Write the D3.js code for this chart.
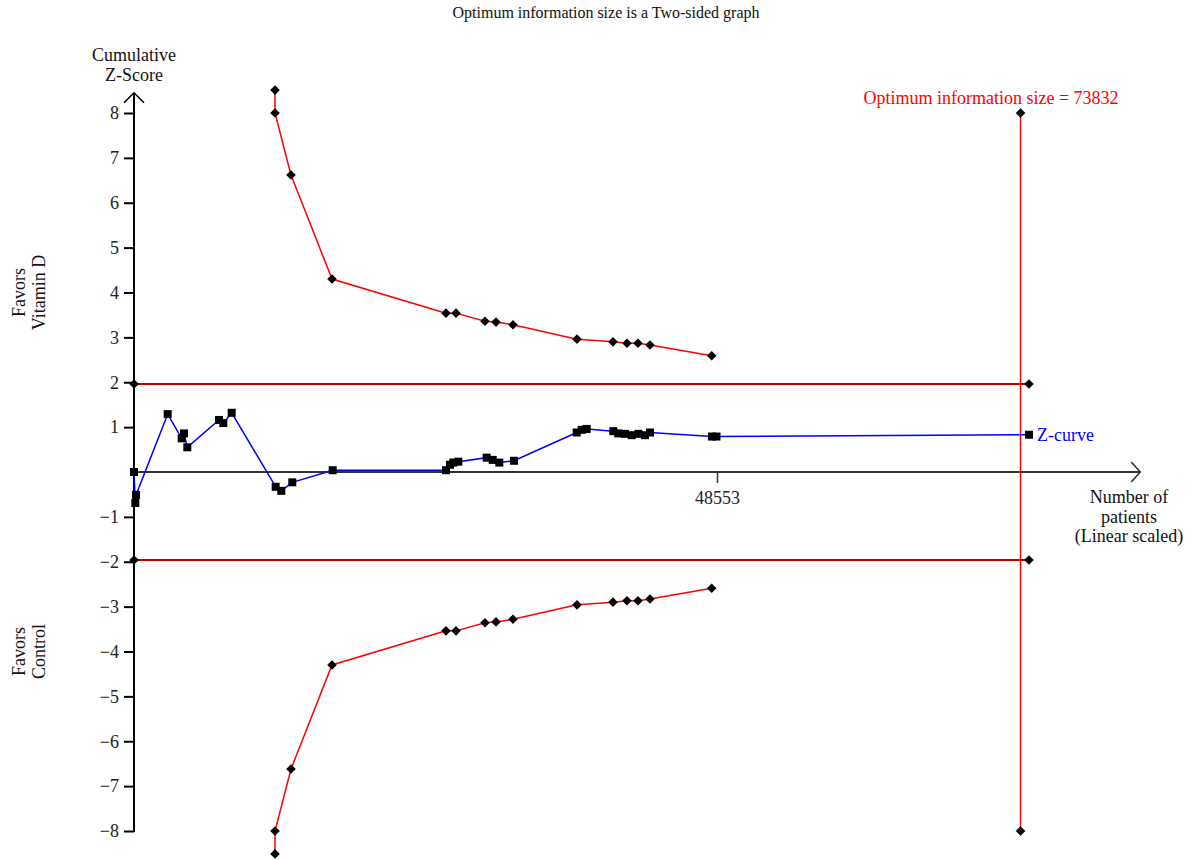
<!DOCTYPE html>
<html>
<head>
<meta charset="utf-8">
<script src="https://cdn.jsdelivr.net/npm/d3@7"></script>
<style>
  html, body { margin: 0; padding: 0; background: #fff; }
  svg { display: block; }
  svg text { font-family: "Liberation Serif", "Times New Roman", serif !important; }
</style>
</head>
<body>
<svg id="chart" width="1192" height="860"></svg>
<script>
// Cumulative Z-curve: number of patients and cumulative Z-score per trial
const zPatients = [0, 110, 170, 2806, 3972, 4164, 4439, 7079, 7437, 8136, 11801, 12267, 13183, 16548,
  25983, 26316, 26592, 27008, 29373, 29873, 30423, 31646, 36868, 37285, 37701, 39917, 40333, 40891,
  41449, 42000, 42556, 42972, 48136, 48511, 74535];
const zScores = [0, -0.69, -0.51, 1.29, 0.75, 0.86, 0.55, 1.16, 1.09, 1.32, -0.33, -0.42, -0.23, 0.04,
  0.04, 0.16, 0.21, 0.23, 0.32, 0.27, 0.21, 0.25, 0.88, 0.94, 0.96, 0.91, 0.86, 0.85,
  0.82, 0.85, 0.82, 0.88, 0.79, 0.79, 0.83];

// Trial sequential monitoring boundaries (two-sided, mirrored)
const boundaryPatients = [11743, 11743, 13075, 16490, 25983, 26816, 29231, 30147, 31563, 36893, 39891,
  41057, 41973, 42972, 48111];
const boundaryZ = [8.51, 8.0, 6.62, 4.30, 3.54, 3.54, 3.36, 3.34, 3.28, 2.96, 2.90, 2.87, 2.87, 2.83, 2.59];

// Conventional boundary, information size and axis settings
const conventionalZ = 1.96;
const conventionalEnd = 74535;
const optimumInfoSize = 73832;
const accruedPatients = 48553;
const yTicks = [-8, -7, -6, -5, -4, -3, -2, -1, 1, 2, 3, 4, 5, 6, 7, 8];
const xTicks = [48553];
const xAxisEnd = 83800;
const yAxisTop = 8.45;

const svg = d3.select("#chart");

const x = d3.scaleLinear().domain([0, accruedPatients]).range([134, 717]);
const y = d3.scaleLinear().domain([-8, 8]).range([831, 113]);

const fmtMinus = d => (d < 0 ? "\u2212" + Math.abs(d) : String(d));

// Title
svg.append("text")
  .attr("x", 606).attr("y", 18)
  .attr("text-anchor", "middle")
  .attr("font-size", 16)
  .attr("fill", "#111")
  .text("Optimum information size is a Two-sided graph");

// Y axis
const yAxis = svg.append("g")
  .attr("transform", `translate(${x(0)},0)`)
  .call(d3.axisLeft(y).tickValues(yTicks).tickSize(10).tickPadding(5).tickFormat(fmtMinus));
yAxis.select(".domain").remove();
yAxis.selectAll(".tick line").attr("stroke", "#000").attr("stroke-width", 2);
yAxis.selectAll(".tick text").attr("font-size", 18).attr("fill", "#222");

svg.append("line")
  .attr("x1", x(0)).attr("x2", x(0))
  .attr("y1", y(-8) + 1).attr("y2", y(yAxisTop))
  .attr("stroke", "#000").attr("stroke-width", 2);
svg.append("path")
  .attr("d", `M${x(0) - 10},${y(yAxisTop) + 10}L${x(0)},${y(yAxisTop)}L${x(0) + 10},${y(yAxisTop) + 10}`)
  .attr("fill", "none").attr("stroke", "#000").attr("stroke-width", 1.6);

// Y axis title
svg.append("text")
  .attr("x", x(0)).attr("y", 61)
  .attr("text-anchor", "middle").attr("font-size", 18).attr("fill", "#111")
  .selectAll("tspan").data(["Cumulative", "Z-Score"]).join("tspan")
  .attr("x", x(0)).attr("dy", (d, i) => (i === 0 ? 0 : 20))
  .text(d => d);

// Side labels
[["Favors", "Vitamin D", 4], ["Favors", "Control", -4]].forEach(([a, b, z]) => {
  const t = svg.append("text")
    .attr("transform", `translate(25,${y(z)}) rotate(-90)`)
    .attr("text-anchor", "middle").attr("font-size", 18).attr("fill", "#111");
  t.append("tspan").attr("x", 0).attr("y", 0).text(a);
  t.append("tspan").attr("x", 0).attr("y", 20).text(b);
});

// X axis
const xAxis = svg.append("g")
  .attr("transform", `translate(0,${y(0)})`)
  .call(d3.axisBottom(x).tickValues(xTicks).tickSize(11).tickPadding(8).tickFormat(d3.format("d")));
xAxis.select(".domain").remove();
xAxis.selectAll(".tick line").attr("stroke", "#333").attr("stroke-width", 1.5);
xAxis.selectAll(".tick text").attr("font-size", 18).attr("fill", "#222");

svg.append("line")
  .attr("x1", x(0)).attr("x2", x(xAxisEnd))
  .attr("y1", y(0)).attr("y2", y(0))
  .attr("stroke", "#333").attr("stroke-width", 2);
svg.append("path")
  .attr("d", `M${x(xAxisEnd) - 9},${y(0) - 10}L${x(xAxisEnd)},${y(0)}L${x(xAxisEnd) - 9},${y(0) + 10}`)
  .attr("fill", "none").attr("stroke", "#333").attr("stroke-width", 1.6);

svg.append("text")
  .attr("font-size", 18).attr("fill", "#111").attr("text-anchor", "middle")
  .selectAll("tspan").data(["Number of", "patients", "(Linear scaled)"]).join("tspan")
  .attr("x", 1129).attr("y", (d, i) => 503 + i * 19.5)
  .text(d => d);

// Conventional boundaries (±1.96)
const diamond = d3.symbol(d3.symbolSquare, 46);
[conventionalZ, -conventionalZ].forEach(z => {
  svg.append("line")
    .attr("x1", x(0)).attr("x2", x(conventionalEnd))
    .attr("y1", y(z)).attr("y2", y(z))
    .attr("stroke", "#c00000").attr("stroke-width", 2);
  [0, conventionalEnd].forEach(n => {
    svg.append("path").attr("d", diamond())
      .attr("transform", `translate(${x(n)},${y(z)}) rotate(45)`)
      .attr("fill", "#000");
  });
});

// Optimum information size line
svg.append("line")
  .attr("x1", x(optimumInfoSize)).attr("x2", x(optimumInfoSize))
  .attr("y1", y(8)).attr("y2", y(-8))
  .attr("stroke", "#ff0000").attr("stroke-width", 1.5);
[8, -8].forEach(z => {
  svg.append("path").attr("d", diamond())
    .attr("transform", `translate(${x(optimumInfoSize)},${y(z)}) rotate(45)`)
    .attr("fill", "#000");
});
svg.append("text")
  .attr("x", x(optimumInfoSize) + 98).attr("y", 104)
  .attr("text-anchor", "end").attr("font-size", 18).attr("fill", "#ff0000")
  .text("Optimum information size = " + optimumInfoSize);

// Monitoring boundaries
const boundary = boundaryPatients.map((n, i) => ({ n, z: boundaryZ[i] }));
const line = d3.line().x(d => x(d.n)).y(d => y(d.z));
[1, -1].forEach(sign => {
  const pts = boundary.map(d => ({ n: d.n, z: sign * d.z }));
  svg.append("path").datum(pts)
    .attr("d", line).attr("fill", "none")
    .attr("stroke", "#ff0000").attr("stroke-width", 1.5);
  svg.append("g").selectAll("path").data(pts).join("path")
    .attr("d", diamond())
    .attr("transform", d => `translate(${x(d.n)},${y(d.z)}) rotate(45)`)
    .attr("fill", "#000");
});

// Z-curve
const zCurve = zPatients.map((n, i) => ({ n, z: zScores[i] }));
svg.append("path").datum(zCurve)
  .attr("d", line).attr("fill", "none")
  .attr("stroke", "#0000ff").attr("stroke-width", 1.5);
svg.append("g").selectAll("rect").data(zCurve).join("rect")
  .attr("x", d => x(d.n) - 4).attr("y", d => y(d.z) - 4)
  .attr("width", 8).attr("height", 8)
  .attr("fill", "#000");

const last = zCurve[zCurve.length - 1];
svg.append("text")
  .attr("x", x(last.n) + 8).attr("y", y(last.z) + 6)
  .attr("font-size", 18).attr("fill", "#0000ff")
  .text("Z-curve");
</script>
</body>
</html>
